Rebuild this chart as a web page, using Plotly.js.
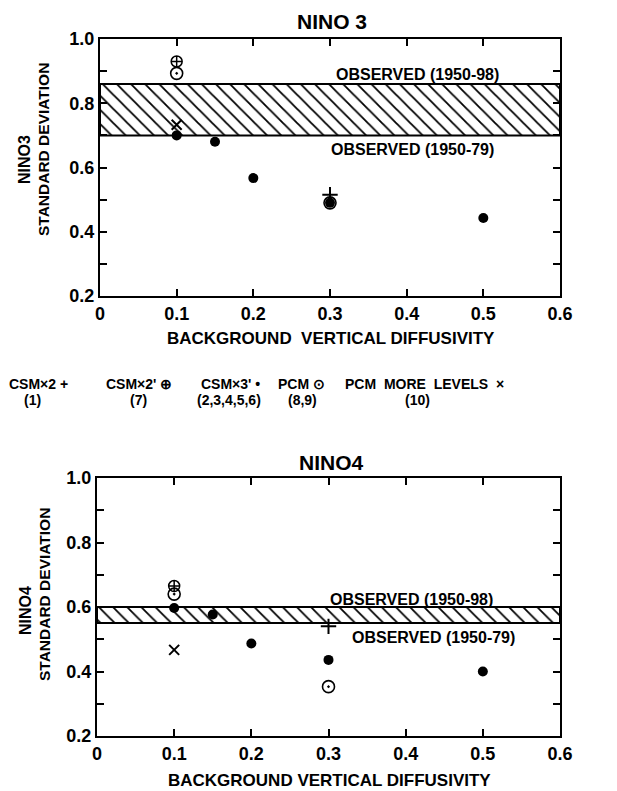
<!DOCTYPE html>
<html>
<head>
<meta charset="utf-8">
<script src="https://cdn.plot.ly/plotly-3.0.1.min.js"></script>
<style>html,body{margin:0;padding:0;background:#fff;}#chart{width:617px;height:791px;}</style>
</head>
<body>
<div id="chart"></div>
<script>
// ---- data ----
const xTickVals = [0, 0.1, 0.2, 0.3, 0.4, 0.5, 0.6];
const xTickText = ['0', '0.1', '0.2', '0.3', '0.4', '0.5', '0.6'];
const yTickVals = [0.2, 0.3, 0.4, 0.5, 0.6, 0.7, 0.8, 0.9, 1.0];
const yTickText = ['0.2', '', '0.4', '', '0.6', '', '0.8', '', '1.0'];

// CSMx2 (+) run 1
const csmx2X = [0.3];
const csmx2N3 = [0.515];
const csmx2N4 = [0.54];
// CSMx2' (circle-plus) run 7
const csmx2pX = [0.1];
const csmx2pN3 = [0.93];
const csmx2pN4 = [0.665];
// CSMx3' (dot) runs 2-6
const csmx3pX = [0.1, 0.15, 0.2, 0.3, 0.5];
const csmx3pN3 = [0.70, 0.68, 0.567, 0.49, 0.443];
const csmx3pN4 = [0.597, 0.577, 0.487, 0.436, 0.40];
// PCM (circle-dot) runs 8,9
const pcmX = [0.1, 0.3];
const pcmN3 = [0.893, 0.49];
const pcmN4 = [0.64, 0.353];
// PCM more levels (x) run 10
const pcmMoreX = [0.1];
const pcmMoreN3 = [0.733];
const pcmMoreN4 = [0.467];
// Observed bands [1950-79, 1950-98]
const obsN3 = [0.70, 0.86];
const obsN4 = [0.55, 0.60];
const xRange = [0, 0.6];

const FONT = 'Liberation Sans, Arial, sans-serif';

function band(obs, xa, ya) {
  return {
    type: 'bar', xaxis: xa, yaxis: ya,
    x: [(xRange[0] + xRange[1]) / 2], width: [xRange[1] - xRange[0]],
    base: [obs[0]], y: [obs[1] - obs[0]],
    marker: {color: 'white', line: {color: 'black', width: 2},
      pattern: {shape: '\\', fgcolor: 'black', bgcolor: 'white', size: 10, solidity: 0.18}},
    hoverinfo: 'skip', showlegend: false
  };
}
function pts(x, y, symbol, size, lw, xa, ya) {
  return {type: 'scatter', mode: 'markers', xaxis: xa, yaxis: ya, x: x, y: y,
    marker: {symbol: symbol, size: size, color: 'black', line: {color: 'black', width: lw}},
    showlegend: false};
}
function series(xa, ya, c2, c2p, c3p, p, pm) {
  return [
    pts(csmx3pX, c3p, 'circle', 10, 0, xa, ya),
    pts(pcmX, p, 'circle-open-dot', 12, 1.6, xa, ya),
    pts(csmx2pX, c2p, 'circle-cross-open', 11, 1.5, xa, ya),
    pts(csmx2X, c2, 'cross-thin-open', 11, 2, xa, ya),
    pts(pcmMoreX, pm, 'x-thin-open', 10, 2, xa, ya)
  ];
}

const data = [
  band(obsN3, 'x', 'y'),
  band(obsN4, 'x2', 'y2'),
  ...series('x', 'y', csmx2N3, csmx2pN3, csmx3pN3, pcmN3, pcmMoreN3),
  ...series('x2', 'y2', csmx2N4, csmx2pN4, csmx3pN4, pcmN4, pcmMoreN4)
];

function xAxis(domain, anchor) {
  return {domain: domain, anchor: anchor, range: xRange, tickvals: xTickVals, ticktext: xTickText,
    showline: true, linewidth: 2, linecolor: 'black', mirror: 'allticks',
    ticks: 'inside', ticklen: 7, tickwidth: 2, tickcolor: 'black',
    showgrid: false, zeroline: false, fixedrange: true,
    tickfont: {family: FONT, size: 18, color: 'black', weight: 'bold'}};
}
function yAxis(domain, anchor) {
  return {domain: domain, anchor: anchor, range: [0.2, 1.0], tickvals: yTickVals, ticktext: yTickText,
    showline: true, linewidth: 2, linecolor: 'black', mirror: 'allticks',
    ticks: 'inside', ticklen: 7, tickwidth: 2, tickcolor: 'black',
    showgrid: false, zeroline: false, fixedrange: true,
    tickfont: {family: FONT, size: 18, color: 'black', weight: 'bold'}};
}

function txt(text, x, y, size, extra) {
  return Object.assign({text: text, x: x, y: y, xref: 'paper', yref: 'paper',
    xanchor: 'center', yanchor: 'middle', showarrow: false,
    font: {family: FONT, size: size, color: 'black', weight: 'bold'}}, extra || {});
}
function obsTxt(text, x, y, xr, yr) {
  return {text: text, x: x, y: y, xref: xr, yref: yr, showarrow: false,
    font: {family: FONT, size: 16, color: 'black', weight: 'bold'}};
}
const W = 617, H = 791;
const px = v => v / W, py = v => 1 - v / H;

const annotations = [
  txt('NINO 3', px(332), py(21), 21),
  txt('NINO4', px(331), py(463), 21),
  txt('BACKGROUND  VERTICAL DIFFUSIVITY', px(331), py(338), 17),
  txt('BACKGROUND VERTICAL DIFFUSIVITY', px(330), py(780), 17),
  txt('NINO3', px(25), py(160), 16, {textangle: -90}),
  txt('STANDARD DEVIATION', px(43), py(150), 15.5, {textangle: -90}),
  txt('NINO4', px(25), py(611), 16, {textangle: -90}),
  txt('STANDARD DEVIATION', px(44), py(595), 15.5, {textangle: -90}),
  // observed labels (data coords)
  obsTxt('OBSERVED (1950-98)', 0.414, 0.888, 'x', 'y'),
  obsTxt('OBSERVED (1950-79)', 0.407, 0.657, 'x', 'y'),
  obsTxt('OBSERVED (1950-98)', 0.408, 0.622, 'x2', 'y2'),
  obsTxt('OBSERVED (1950-79)', 0.436, 0.504, 'x2', 'y2'),
  // legend row
  txt('CSM×2 +', px(38.5), py(384), 14),
  txt("CSM×2' ⊕", px(139), py(384), 14),
  txt("CSM×3' •", px(230), py(384), 14),
  txt('PCM ⊙', px(301.5), py(384), 14),
  txt('PCM  MORE  LEVELS  ×', px(424), py(384), 14),
  txt('(1)', px(32), py(400), 14),
  txt('(7)', px(138), py(400), 14),
  txt('(2,3,4,5,6)', px(229), py(400), 14),
  txt('(8,9)', px(302), py(400), 14),
  txt('(10)', px(417), py(400), 14)
];

const layout = {
  width: W, height: H,
  margin: {l: 0, r: 0, t: 0, b: 0},
  paper_bgcolor: 'white', plot_bgcolor: 'white',
  showlegend: false,
  barmode: 'overlay',
  xaxis: xAxis([px(100), px(560)], 'y'),
  yaxis: yAxis([py(296), py(39)], 'x'),
  xaxis2: xAxis([px(97), px(560)], 'y2'),
  yaxis2: yAxis([py(736), py(478)], 'x2'),
  annotations: annotations
};

Plotly.newPlot('chart', data, layout, {staticPlot: true, displayModeBar: false});
</script>
</body>
</html>
